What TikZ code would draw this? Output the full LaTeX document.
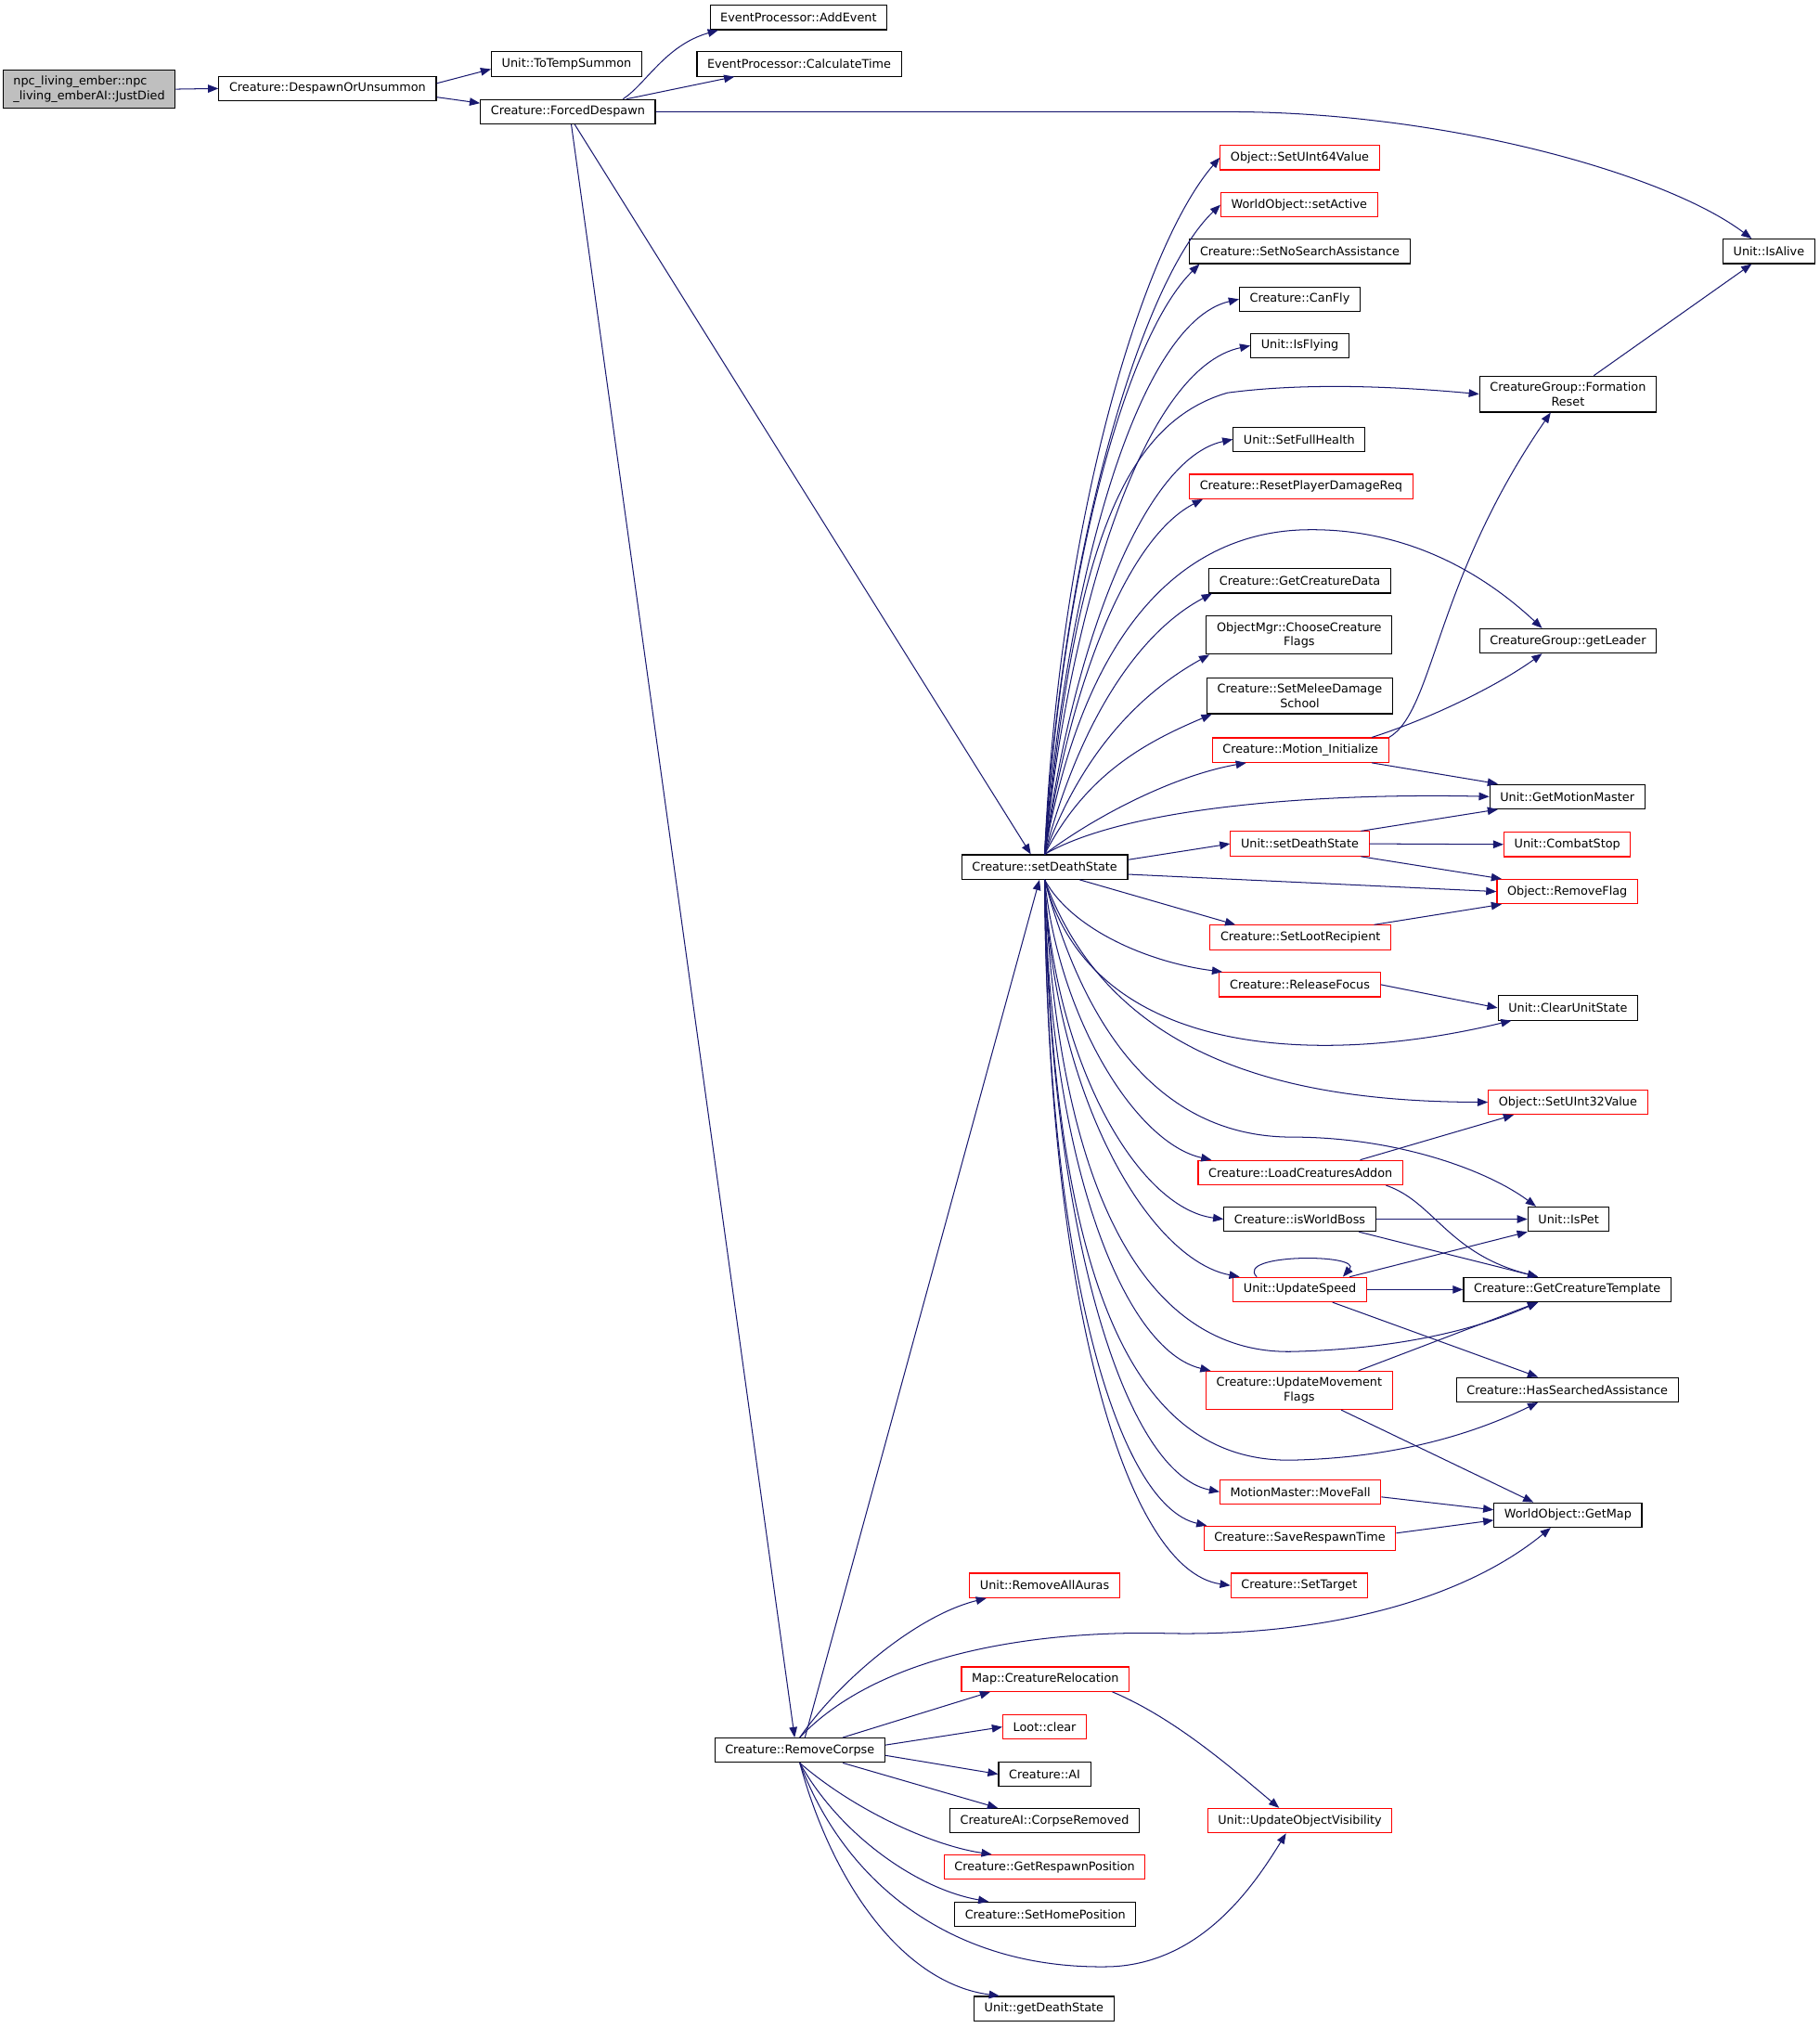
\documentclass[tikz,border=0pt]{standalone}
\usepackage{fontspec}
\setmainfont{DejaVu Sans}
\usetikzlibrary{arrows.meta}
\definecolor{edgeblue}{RGB}{25,25,112}
\tikzset{
  box/.style={draw=black,line width=0.6pt,inner xsep=6pt,inner ysep=3.6pt,minimum height=14.2pt,align=center,font=\fontsize{6.9}{8.3}\selectfont},
  redbox/.style={box,draw=red},
  edge/.style={draw=edgeblue,line width=0.55pt,-{Triangle[length=6pt,width=4.6pt]}}
}
\begin{document}
\begin{tikzpicture}[x=0.75pt,y=-0.75pt]
\useasboundingbox (0,0) rectangle (1408.5,1569.5);
\node[box,fill=black!25,align=left] (jd) at (69,69) {npc\_living\_ember::npc\\\_living\_emberAI::JustDied};
\node[box] (dou) at (253.5,68.5) {Creature::DespawnOrUnsummon};
\node[box] (tts) at (438.5,49.5) {Unit::ToTempSummon};
\node[box] (fd) at (439.5,86.5) {Creature::ForcedDespawn};
\node[box] (ae) at (618,13.5) {EventProcessor::AddEvent};
\node[box] (ct) at (618.5,49.5) {EventProcessor::CalculateTime};
\node[box] (alive) at (1369,194.5) {Unit::IsAlive};
\node[redbox] (u64) at (1006,122) {Object::SetUInt64Value};
\node[redbox] (act) at (1005.5,158.5) {WorldObject::setActive};
\node[box] (nsa) at (1006,194.5) {Creature::SetNoSearchAssistance};
\node[box] (fly) at (1006,231.5) {Creature::CanFly};
\node[box] (isfly) at (1006,267.5) {Unit::IsFlying};
\node[box] (fr) at (1213.5,305) {CreatureGroup::Formation\\Reset};
\node[box] (sfh) at (1005.5,340) {Unit::SetFullHealth};
\node[redbox] (rpd) at (1007,376.5) {Creature::ResetPlayerDamageReq};
\node[box] (gcd) at (1006,449.5) {Creature::GetCreatureData};
\node[box] (ccf) at (1005.5,491.5) {ObjectMgr::ChooseCreature\\Flags};
\node[box] (smd) at (1006,538.5) {Creature::SetMeleeDamage\\School};
\node[box] (lead) at (1213.5,496) {CreatureGroup::getLeader};
\node[redbox] (mi) at (1006.5,580.5) {Creature::Motion\_Initialize};
\node[box] (gmm) at (1213,616.5) {Unit::GetMotionMaster};
\node[box] (sds) at (808.5,671) {Creature::setDeathState};
\node[redbox] (usds) at (1006,653) {Unit::setDeathState};
\node[redbox] (cs) at (1213,653.5) {Unit::CombatStop};
\node[redbox] (rf) at (1213,690) {Object::RemoveFlag};
\node[redbox] (slr) at (1006.5,725.5) {Creature::SetLootRecipient};
\node[redbox] (rfo) at (1006,762) {Creature::ReleaseFocus};
\node[box] (cus) at (1213.5,780) {Unit::ClearUnitState};
\node[redbox] (u32) at (1213.5,853) {Object::SetUInt32Value};
\node[redbox] (lca) at (1006.5,907.5) {Creature::LoadCreaturesAddon};
\node[box] (iwb) at (1006,943.5) {Creature::isWorldBoss};
\node[box] (pet) at (1214,943.5) {Unit::IsPet};
\node[redbox] (us) at (1006,998) {Unit::UpdateSpeed};
\node[box] (gct) at (1213,998) {Creature::GetCreatureTemplate};
\node[redbox] (umf) at (1005.5,1076) {Creature::UpdateMovement\\Flags};
\node[box] (hsa) at (1213,1075.5) {Creature::HasSearchedAssistance};
\node[redbox] (mf) at (1006.5,1154.5) {MotionMaster::MoveFall};
\node[box] (gm) at (1213.5,1172.5) {WorldObject::GetMap};
\node[redbox] (srt) at (1006,1190.5) {Creature::SaveRespawnTime};
\node[redbox] (st) at (1005.5,1227) {Creature::SetTarget};
\node[redbox] (raa) at (808.5,1227) {Unit::RemoveAllAuras};
\node[redbox] (cr) at (809,1299.5) {Map::CreatureRelocation};
\node[redbox] (lc) at (808.5,1336.5) {Loot::clear};
\node[box] (ai) at (808.5,1373) {Creature::AI};
\node[box] (cre) at (808.5,1409) {CreatureAI::CorpseRemoved};
\node[redbox] (grp) at (808.5,1445) {Creature::GetRespawnPosition};
\node[box] (shp) at (809,1481.5) {Creature::SetHomePosition};
\node[box] (gds) at (808,1554.5) {Unit::getDeathState};
\node[redbox] (uov) at (1006,1409) {Unit::UpdateObjectVisibility};
\node[box] (rc) at (619,1354.5) {Creature::RemoveCorpse};
\draw[edge] (jd.east) -- (dou.west);
\draw[edge] ([yshift=3pt]dou.east) -- ([yshift=-3pt]tts.west);
\draw[edge] ([yshift=-5pt]dou.east) -- ([yshift=5pt]fd.west);
\draw[edge] ([xshift=32pt]fd.north) .. controls (500,65) and (515,35) .. ([xshift=5pt]ae.south west);
\draw[edge] ([xshift=34pt]fd.north) -- ([xshift=22pt]ct.south west);
\draw[edge] (fd.east) -- (950,86.5) .. controls (1120,86.5) and (1290,135) .. ([xshift=-10pt]alive.north);
\draw[edge] ([xshift=4pt]fd.south) -- ([xshift=-8pt]sds.north);
\draw[edge] ([xshift=2pt]fd.south) -- ([xshift=-3pt]rc.north);
\draw[edge] ([xshift=3pt]rc.north) -- ([xshift=-3pt]sds.south);
\draw[edge] (sds.north) .. controls (820,400) and (885,190) .. (u64.west);
\draw[edge] (sds.north) .. controls (822,420) and (885,215) .. (act.west);
\draw[edge] (sds.north) .. controls (822,440) and (872,260) .. ([xshift=6pt]nsa.south west);
\draw[edge] (sds.north) .. controls (825,450) and (880,250) .. (fly.west);
\draw[edge] (sds.north) .. controls (828,470) and (885,285) .. (isfly.west);
\draw[edge] (sds.north) .. controls (830,450) and (860,330) .. (950,304) .. controls (1010,296) and (1080,299) .. (fr.west);
\draw[edge] (sds.north) .. controls (830,500) and (885,355) .. (sfh.west);
\draw[edge] (sds.north) .. controls (830,520) and (875,415) .. ([xshift=8pt]rpd.south west);
\draw[edge] (sds.north) .. controls (835,560) and (880,490) .. ([xshift=2pt]gcd.south west);
\draw[edge] (sds.north) .. controls (838,580) and (885,535) .. ([xshift=2pt]ccf.south west);
\draw[edge] (sds.north) .. controls (840,600) and (885,575) .. ([xshift=3pt]smd.south west);
\draw[edge] (sds.north) .. controls (840,480) and (920,412) .. (1010,410) .. controls (1100,408) and (1160,455) .. ([xshift=-15pt]lead.north);
\draw[edge] (sds.north) .. controls (850,630) and (910,600) .. ([xshift=20pt]mi.south west);
\draw[edge] (sds.north) .. controls (880,620) and (1050,614) .. (gmm.west);
\draw[edge] (sds.5) -- (usds.west);
\draw[edge] (sds.-5) -- (rf.west);
\draw[edge] (sds.-20) -- ([xshift=15pt]slr.north west);
\draw[edge] (sds.south) .. controls (830,720) and (890,745) .. ([xshift=2pt]rfo.north west);
\draw[edge] (sds.south) .. controls (845,819) and (1020,826) .. ([xshift=8pt]cus.south west);
\draw[edge] (sds.south) .. controls (860,822) and (1001,852.5) .. (u32.west);
\draw[edge] (sds.south) .. controls (820,790) and (880,885) .. ([xshift=8pt]lca.north west);
\draw[edge] (sds.south) .. controls (840,800) and (900,880) .. (1000,880) .. controls (1080,880) and (1150,905) .. ([xshift=5pt]pet.north west);
\draw[edge] (sds.south) .. controls (815,820) and (880,935) .. (iwb.west);
\draw[edge] (sds.south) .. controls (815,850) and (890,975) .. ([xshift=4pt]us.north west);
\draw[edge] (sds.south) .. controls (820,950) and (900,1048) .. (1000,1046) .. controls (1080,1044) and (1140,1030) .. ([xshift=-17pt]gct.south);
\draw[edge] (sds.south) .. controls (812,900) and (870,1045) .. ([xshift=3pt]umf.north west);
\draw[edge] (sds.south) .. controls (815,1000) and (880,1132) .. (1000,1130) .. controls (1090,1128) and (1150,1105) .. ([xshift=-17pt]hsa.south);
\draw[edge] (sds.south) .. controls (812,950) and (870,1140) .. (mf.west);
\draw[edge] (sds.south) .. controls (810,980) and (865,1165) .. ([xshift=2pt]srt.north west);
\draw[edge] (sds.south) .. controls (810,1000) and (870,1215) .. (st.west);
\draw[edge] ([xshift=15pt]fr.north) -- ([xshift=-10pt]alive.south);
\draw[edge] (mi.north east) .. controls (1110,550) and (1110,450) .. ([xshift=-10pt]fr.south);
\draw[edge] ([xshift=-10pt]mi.north east) .. controls (1110,555) and (1160,530) .. ([xshift=-15pt]lead.south);
\draw[edge] ([xshift=-10pt]mi.south east) -- ([xshift=5pt]gmm.north west);
\draw[edge] ([xshift=-5pt]usds.north east) -- ([xshift=5pt]gmm.south west);
\draw[edge] (usds.east) -- (cs.west);
\draw[edge] ([xshift=-5pt]usds.south east) -- ([xshift=3pt]rf.north west);
\draw[edge] ([xshift=-10pt]slr.north east) -- ([xshift=3pt]rf.south west);
\draw[edge] (rfo.east) -- (cus.west);
\draw[edge] ([xshift=-25pt]lca.north east) -- ([xshift=15pt]u32.south west);
\draw[edge] ([xshift=-10pt]lca.south east) .. controls (1110,930) and (1120,970) .. ([xshift=-17pt]gct.north);
\draw[edge] (iwb.east) -- (pet.west);
\draw[edge] ([xshift=-10pt]iwb.south east) -- ([xshift=-17pt]gct.north);
\draw[edge] ([xshift=-10pt]us.north east) -- (pet.south west);
\draw[edge] (us.east) -- (gct.west);
\draw[edge] ([xshift=-20pt]us.south east) -- ([xshift=-17pt]hsa.north);
\draw[edge] ([xshift=-25pt]us.north) .. controls (955,970) and (1055,970) .. ([xshift=25pt]us.north);
\draw[edge] ([xshift=-20pt]umf.north east) -- ([xshift=-17pt]gct.south);
\draw[edge] ([xshift=-30pt]umf.south east) -- ([xshift=-20pt]gm.north);
\draw[edge] ([yshift=-3pt]mf.east) -- ([yshift=3pt]gm.west);
\draw[edge] ([yshift=3pt]srt.east) -- ([yshift=-3pt]gm.west);
\draw[edge] (rc.north) .. controls (650,1300) and (710,1250) .. ([xshift=10pt]raa.south west);
\draw[edge] (rc.north) .. controls (680,1280) and (800,1262) .. (900,1264) .. controls (1020,1267) and (1130,1240) .. ([xshift=-10pt]gm.south);
\draw[edge] ([xshift=25pt]rc.north) -- ([xshift=17pt]cr.south west);
\draw[edge] ([yshift=3pt]rc.east) -- (lc.west);
\draw[edge] ([yshift=-3pt]rc.east) -- (ai.west);
\draw[edge] ([xshift=25pt]rc.south) -- ([xshift=28pt]cre.north west);
\draw[edge] (rc.south) .. controls (660,1400) and (720,1428) .. ([xshift=28pt]grp.north west);
\draw[edge] (rc.south) .. controls (650,1420) and (710,1462) .. ([xshift=20pt]shp.north west);
\draw[edge] (rc.south) .. controls (655,1460) and (740,1525) .. (860,1522) .. controls (930,1519) and (970,1460) .. ([xshift=-8pt]uov.south);
\draw[edge] (rc.south) .. controls (645,1460) and (700,1535) .. ([xshift=15pt]gds.north west);
\draw[edge] ([xshift=-10pt]cr.south east) .. controls (910,1330) and (955,1370) .. ([xshift=-12pt]uov.north);
\end{tikzpicture}
\end{document}
